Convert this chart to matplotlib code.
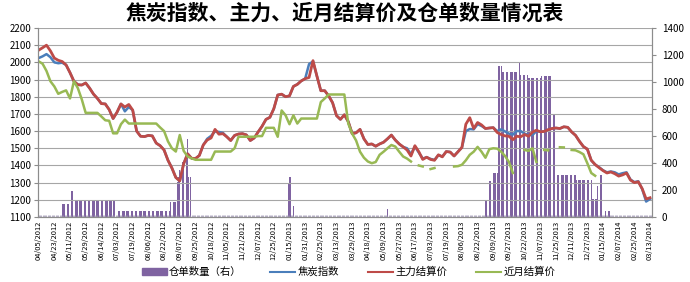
import numpy as np
import matplotlib.pyplot as plt
from matplotlib.patches import Patch
from matplotlib.lines import Line2D

plt.rcParams['font.family'] = ['Noto Sans CJK SC', 'DejaVu Sans']

nan = np.nan

# 交易日数量，数值按每3个交易日取一个点
n_days = 470
step = 3

tick_dates = ['04/05/2012', '04/23/2012', '05/11/2012', '05/29/2012', '06/14/2012',
              '07/03/2012', '07/19/2012', '08/06/2012', '08/22/2012', '09/07/2012',
              '09/25/2012', '10/18/2012', '11/05/2012', '11/21/2012', '12/07/2012',
              '12/25/2012', '01/15/2013', '01/31/2013', '02/25/2013', '03/13/2013',
              '03/29/2013', '04/18/2013', '05/09/2013', '05/27/2013', '06/17/2013',
              '07/03/2013', '07/19/2013', '08/06/2013', '08/22/2013', '09/09/2013',
              '09/27/2013', '10/22/2013', '11/07/2013', '11/25/2013', '12/11/2013',
              '12/27/2013', '01/15/2014', '02/07/2014', '02/25/2014', '03/13/2014']

# 焦炭指数
coke_index = [
    2025, 2035, 2048, 2030, 2000, 1995, 1998, 1985, 1940, 1890,
    1870, 1868, 1880, 1850, 1815, 1790, 1760, 1758, 1725, 1673,
    1710, 1758, 1715, 1740, 1722, 1600, 1570, 1568, 1575, 1572,
    1530, 1515, 1490, 1430, 1385, 1330, 1310, 1410, 1468, 1442,
    1440, 1458, 1519, 1555, 1572, 1598, 1595, 1590, 1567, 1545,
    1575, 1583, 1585, 1578, 1545, 1560, 1595, 1628, 1668, 1680,
    1730, 1810, 1815, 1800, 1805, 1860, 1872, 1892, 1905, 1990,
    2005, 1920, 1835, 1835, 1805, 1765, 1690, 1668, 1695, 1655,
    1585, 1590, 1610, 1555, 1522, 1525, 1512, 1525, 1535, 1555,
    1577, 1548, 1525, 1508, 1500, 1465, 1510, 1475, 1440, 1448,
    1438, 1432, 1460, 1452, 1481, 1478, 1455, 1480, 1505, 1600,
    1612, 1610, 1640, 1630, 1615, 1618, 1620, 1600, 1610, 1598,
    1585, 1580, 1600, 1600, 1585, 1577, 1577, 1600, 1596, 1598,
    1608, 1615, 1618, 1615, 1625, 1622, 1595, 1575, 1540, 1510,
    1495, 1430, 1405, 1390, 1372, 1360, 1365, 1360, 1348, 1355,
    1360, 1318, 1303, 1308, 1262, 1190, 1205]

# 主力结算价
main_settle = [
    2071, 2085, 2100, 2067, 2025, 2012, 2005, 1985, 1940, 1890,
    1870, 1868, 1880, 1850, 1815, 1790, 1760, 1758, 1725, 1673,
    1710, 1758, 1740, 1755, 1722, 1600, 1570, 1568, 1575, 1572,
    1530, 1515, 1490, 1430, 1385, 1330, 1310, 1410, 1468, 1442,
    1440, 1458, 1519, 1548, 1560, 1610, 1582, 1585, 1567, 1545,
    1575, 1583, 1585, 1578, 1545, 1560, 1595, 1628, 1668, 1680,
    1730, 1810, 1815, 1800, 1805, 1860, 1872, 1892, 1905, 1912,
    2010, 1920, 1835, 1835, 1805, 1765, 1690, 1668, 1695, 1655,
    1585, 1590, 1610, 1555, 1522, 1525, 1512, 1525, 1535, 1555,
    1577, 1548, 1525, 1508, 1490, 1455, 1515, 1480, 1435, 1448,
    1435, 1430, 1462, 1450, 1481, 1478, 1455, 1480, 1505, 1640,
    1678, 1615, 1650, 1636, 1615, 1618, 1620, 1592, 1580, 1572,
    1570, 1550, 1570, 1567, 1580, 1570, 1594, 1605, 1596, 1598,
    1608, 1615, 1618, 1615, 1625, 1622, 1595, 1575, 1540, 1510,
    1495, 1430, 1405, 1387, 1370, 1356, 1362, 1352, 1338, 1345,
    1356, 1315, 1300, 1305, 1265, 1205, 1212]

# 近月结算价
near_settle = [
    2006, 1992, 1950, 1890, 1860, 1817, 1828, 1837, 1790, 1890,
    1850, 1785, 1706, 1706, 1706, 1706, 1685, 1663, 1660, 1587,
    1587, 1640, 1667, 1644, 1644, 1644, 1644, 1644, 1644, 1644,
    1644, 1621, 1600, 1540, 1500, 1481, 1577, 1485, 1452, 1442,
    1433, 1433, 1433, 1433, 1433, 1481, 1481, 1481, 1481, 1481,
    1500, 1567, 1567, 1567, 1567, 1567, 1571, 1571, 1619, 1619,
    1619, 1567, 1720, 1692, 1640, 1692, 1644, 1673, 1673, 1673,
    1673, 1673, 1769, 1790, 1813, 1813, 1813, 1813, 1813, 1644,
    1585, 1545, 1480, 1445, 1423, 1413, 1420, 1462, 1480, 1500,
    1519, 1510, 1480, 1452, 1440, 1423, nan, 1400, 1394, nan,
    1379, 1385, nan, nan, nan, nan, 1394, 1396, 1404, 1430,
    1462, 1480, 1508, 1480, 1445, 1495, 1500, 1498, 1480, 1455,
    1420, 1356, nan, nan, 1490, 1485, 1500, 1420, nan, 1490,
    1488, nan, nan, 1506, 1505, nan, 1490, 1488, 1478, 1465,
    1413, 1356, 1340, nan, nan, nan, nan, nan, nan, nan,
    nan, nan, nan, nan, nan, nan, nan]

# 仓单数量（右轴），逐日
receipts = ([0] * 18 + [100] * 6 + [190] * 3 + [127] * 32 + [0] + [42] * 41 + [110] * 5
            + [262, 300, 347, 380, 409, 400, 396, 420, 580, 300, 299]
            + [0] * 74 + [250, 300, 300, 300, 80] + [0] * 71 + [56, 0, 154] + [0] * 72
            + [117] * 3 + [265] * 3 + [326] * 4 + [1120] * 3 + [1075] * 12 + [1148] * 2
            + [1052] * 6 + [1027] * 10 + [1043] * 9 + [766] * 3 + [313] * 15 + [276] * 12
            + [130] * 4 + [233] * 2 + [313] * 3 + [0] + [48] * 4 + [0] * 32)

c_bar = '#7F63A1'
c_blue = '#4A7EBB'
c_red = '#BE4B48'
c_green = '#98B954'
c_axis = '#8C8C8C'

fig = plt.figure(figsize=(6.9, 2.82), dpi=100)
ax = fig.add_axes([38 / 690, 1 - 217 / 282, 614 / 690, 189 / 282])
ax2 = ax.twinx()
ax.set_zorder(ax2.get_zorder() + 1)
ax.patch.set_visible(False)

days = np.arange(n_days)
ax2.bar(days, receipts, width=0.6, color=c_bar, linewidth=0, antialiased=False)

xs = np.arange(len(main_settle)) * step
ax.plot(xs, coke_index, color=c_blue, lw=1.8)
ax.plot(xs, main_settle, color=c_red, lw=2.0)
ax.plot(xs, near_settle, color=c_green, lw=1.8)

ax.set_xlim(-0.5, n_days - 0.5)
ax.set_ylim(1100, 2200)
ax.set_yticks(np.arange(1100, 2201, 100))
ax2.set_ylim(0, 1400)
ax2.set_yticks(np.arange(0, 1401, 200))

ax.yaxis.grid(True, color='#A6A6A6', lw=0.8)
ax.set_axisbelow(True)

ax.set_xticks(np.arange(0, n_days, 12))
ax.set_xticklabels(tick_dates, rotation=90, fontsize=5.4)
ax.set_xticks(days, minor=True)
ax.tick_params(axis='x', which='both', direction='in', length=1.5, width=0.5,
               color='#9A90B0', pad=2.5)
ax.tick_params(axis='y', labelsize=7, length=3, color=c_axis, pad=2)
ax2.tick_params(axis='y', labelsize=7, length=3, color=c_axis, pad=4)

for a in (ax, ax2):
    a.spines['top'].set_visible(False)
    for s in ('left', 'right', 'bottom'):
        a.spines[s].set_color(c_axis)
        a.spines[s].set_linewidth(0.8)

fig.text(0.5, 1 - 13 / 282, '焦炭指数、主力、近月结算价及仓单数量情况表',
         ha='center', va='center', fontsize=15, fontweight='bold')

handles = [Patch(color=c_bar), Line2D([], [], color=c_blue, lw=1.5),
           Line2D([], [], color=c_red, lw=1.5), Line2D([], [], color=c_green, lw=1.5)]
labels = ['仓单数量（右）', '焦炭指数', '主力结算价', '近月结算价']
fig.legend(handles, labels, loc='center', bbox_to_anchor=(0.505, 10 / 282), ncol=4,
           frameon=False, fontsize=7.5, handlelength=2.4, handleheight=0.6,
           handletextpad=0.2, columnspacing=2.8)

fig.savefig('out.png', dpi=100)
